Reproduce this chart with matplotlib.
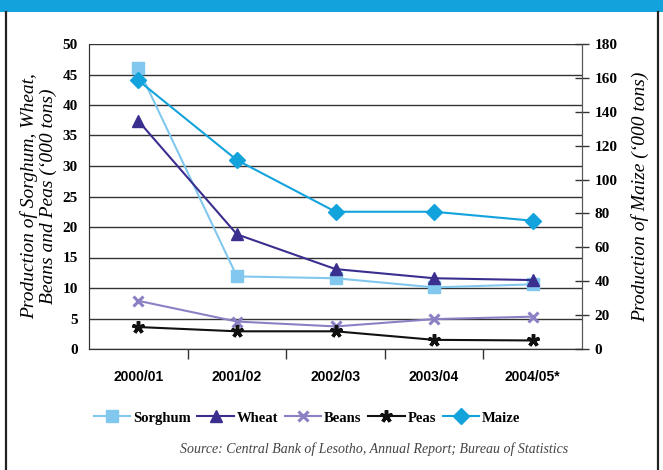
import matplotlib
matplotlib.use("Agg")
import matplotlib.pyplot as plt
from matplotlib.patches import Rectangle
from matplotlib.lines import Line2D

categories = ["2000/01", "2001/02", "2002/03", "2003/04", "2004/05*"]
sorghum = [46.0, 11.9, 11.6, 10.1, 10.6]
wheat = [37.4, 18.8, 13.1, 11.6, 11.3]
beans = [7.9, 4.5, 3.7, 4.9, 5.3]
peas = [3.6, 2.9, 2.9, 1.5, 1.4]
maize = [158.5, 111.5, 81.0, 81.0, 75.7]

left_ticks = list(range(0, 51, 5))
right_ticks = list(range(0, 181, 20))

W, H = 663, 470
fig = plt.figure(figsize=(W / 100, H / 100), dpi=100)
fig.patch.set_facecolor("white")

# frame decorations
fig.add_artist(Rectangle((0, 1 - 12 / H), 1, 12 / H, transform=fig.transFigure,
                         facecolor="#14A2DC", edgecolor="none"))
fig.add_artist(Line2D([5.5 / W, 5.5 / W], [0, 1 - 12 / H], transform=fig.transFigure,
                      color="#222222", lw=1.6))
fig.add_artist(Line2D([657.5 / W, 657.5 / W], [0, 1 - 12 / H], transform=fig.transFigure,
                      color="#222222", lw=1.6))

x0, x1, yt, yb = 89, 582, 44, 349
ax = fig.add_axes([x0 / W, 1 - yb / H, (x1 - x0) / W, (yb - yt) / H])
ax2 = ax.twinx()

xs = list(range(len(categories)))
lw = 1.5
ax.plot(xs, sorghum, color="#82C8EE", lw=lw, marker="s", ms=9, mec="#82C8EE", label="Sorghum", zorder=3)
ax.plot(xs, wheat, color="#3A2F8F", lw=lw, marker="^", ms=8, label="Wheat", zorder=3)
ax.plot(xs, beans, color="#8C80C4", lw=lw, marker="x", ms=7, mew=2.2, label="Beans", zorder=3)
ax.plot(xs, peas, color="#111111", lw=lw, marker=(5, 2, 0), ms=9, mew=2.5, label="Peas", zorder=3)
ax2.plot(xs, maize, color="#13A3DC", lw=lw, marker="D", ms=8, label="Maize", zorder=3)

ax.set_xlim(-0.5, 4.5)
ax.set_ylim(0, 50)
ax2.set_ylim(0, 180)

serif = "Liberation Serif"
ax.set_yticks(left_ticks)
ax.set_yticklabels([str(v) for v in left_ticks], fontsize=11, fontweight="bold", family=serif)
ax.tick_params(axis="y", length=0, pad=8)
ax.yaxis.grid(True, color="#333333", lw=1.0)
ax.set_axisbelow(True)

ax.set_xticks(xs)
ax.set_xticklabels(categories, fontsize=10, fontweight="bold", family="Liberation Sans")
ax.tick_params(axis="x", which="major", length=0, pad=15)
ax.set_xticks([0.5, 1.5, 2.5, 3.5], minor=True)
ax.tick_params(axis="x", which="minor", length=7, width=1, color="#333333", direction="out")

ax2.set_yticks(right_ticks)
ax2.set_yticklabels([str(v) for v in right_ticks], fontsize=11, fontweight="bold", family=serif)
ax2.tick_params(axis="y", length=10, width=1, direction="inout", color="#333333", pad=4)

for a in (ax, ax2):
    a.spines["top"].set_visible(False)
    a.spines["left"].set_color("#333333")
    a.spines["right"].set_color("#555555")
    a.spines["bottom"].set_color("#333333")

ax.set_ylabel("Production of Sorghum, Wheat,\nBeans and Peas (\u2018000 tons)",
              fontsize=14, fontstyle="italic", family=serif, labelpad=4, linespacing=1.1)
ax2.set_ylabel("Production of Maize (\u2018000 tons)", fontsize=14, fontstyle="italic",
               family=serif, labelpad=10)

h1, l1 = ax.get_legend_handles_labels()
h2, l2 = ax2.get_legend_handles_labels()
fig.legend(h1 + h2, l1 + l2, loc="center", bbox_to_anchor=(307 / W, 1 - 418 / H), ncol=5,
           frameon=False, handlelength=2.5, columnspacing=0.45, handletextpad=0.2,
           prop={"family": serif, "weight": "bold", "size": 10.5})

fig.text(568 / W, 1 - 449 / H,
         "Source: Central Bank of Lesotho, Annual Report; Bureau of Statistics",
         ha="right", va="center", fontsize=10, fontstyle="italic", family=serif, color="#444444")

fig.savefig("out.png", dpi=100)
